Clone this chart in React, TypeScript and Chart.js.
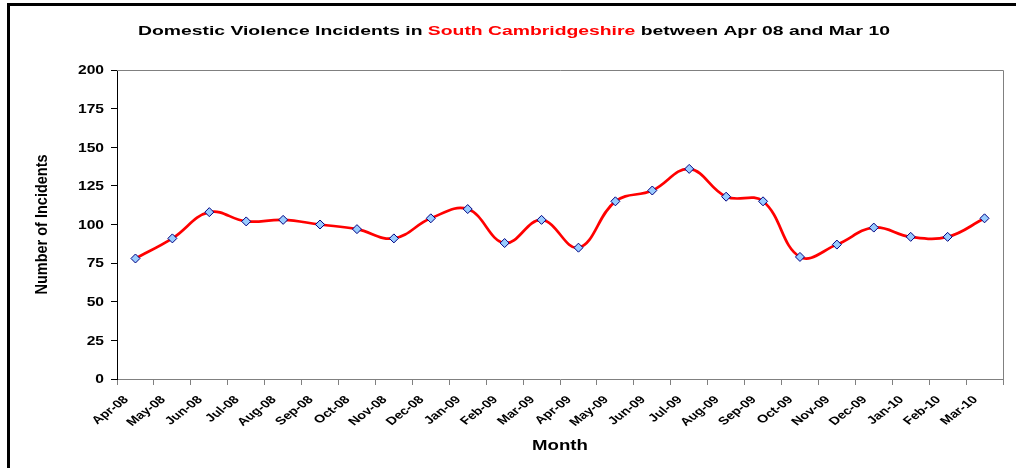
import React, { useEffect, useRef } from "react";
import { Chart, registerables } from "chart.js";

Chart.register(...registerables);

const months = [
  "Apr-08", "May-08", "Jun-08", "Jul-08", "Aug-08", "Sep-08", "Oct-08", "Nov-08",
  "Dec-08", "Jan-09", "Feb-09", "Mar-09", "Apr-09", "May-09", "Jun-09", "Jul-09",
  "Aug-09", "Sep-09", "Oct-09", "Nov-09", "Dec-09", "Jan-10", "Feb-10", "Mar-10",
];
const incidents = [78, 91, 108, 102, 103, 100, 97, 91, 104, 110, 88, 103, 85, 115, 122, 136, 118, 115, 79, 87, 98, 92, 92, 104];
const yTickValues = [0, 25, 50, 75, 100, 125, 150, 175, 200];
const yMin = 0;
const yMax = 200;
const yStep = 25;

const titleParts = [
  { text: "Domestic Violence Incidents in ", color: "#000000" },
  { text: "South Cambridgeshire", color: "#FF0000" },
  { text: " between Apr 08 and Mar 10", color: "#000000" },
];
const xTitle = "Month";
const yTitle = "Number of Incidents";

const FONT = "'Liberation Sans', Arial, sans-serif";
const STRETCH = 1.3;

const textPlugin = {
  id: "texts",
  afterDraw(chart: any) {
    const { ctx, chartArea: a } = chart;
    const xs = chart.scales.x;
    const ys = chart.scales.y;
    ctx.save();
    // plot area top/right border
    ctx.strokeStyle = "#808080";
    ctx.lineWidth = 1;
    ctx.beginPath();
    ctx.moveTo(a.left, a.top + 0.5);
    ctx.lineTo(a.right + 0.5, a.top + 0.5);
    ctx.lineTo(a.right + 0.5, a.bottom);
    ctx.stroke();
    // outer frame
    ctx.fillStyle = "#000000";
    ctx.fillRect(7, 3, 1009, 3);
    ctx.fillRect(7, 3, 3, 465);

    // title (stretched horizontally)
    ctx.font = `bold 13px ${FONT}`;
    ctx.textBaseline = "alphabetic";
    ctx.textAlign = "left";
    const total = titleParts.reduce((s, p) => s + ctx.measureText(p.text).width, 0);
    const targetW = 752;
    const sx = targetW / total;
    ctx.save();
    ctx.translate(514 - targetW / 2, 35);
    ctx.scale(sx, 1);
    let x = 0;
    for (const p of titleParts) {
      ctx.fillStyle = p.color;
      ctx.fillText(p.text, x, 0);
      x += ctx.measureText(p.text).width;
    }
    ctx.restore();

    // y tick labels
    ctx.fillStyle = "#000000";
    ctx.font = `bold 12px ${FONT}`;
    ctx.textAlign = "right";
    ctx.textBaseline = "middle";
    for (const v of yTickValues) {
      const py = ys.getPixelForValue(v);
      ctx.save();
      ctx.translate(104, py + 1);
      ctx.scale(STRETCH, 1);
      ctx.fillText(String(v), 0, 0);
      ctx.restore();
    }

    // y title (rotated, thickened horizontally)
    ctx.font = `bold 14.5px ${FONT}`;
    ctx.textAlign = "center";
    ctx.textBaseline = "middle";
    ctx.save();
    ctx.translate(42, (a.top + a.bottom) / 2);
    ctx.scale(1.15, 1);
    ctx.rotate(-Math.PI / 2);
    ctx.fillText(yTitle, 0, 0);
    ctx.restore();

    // x tick labels (rotated 45, stretched)
    ctx.font = `bold 11px ${FONT}`;
    ctx.textAlign = "right";
    ctx.textBaseline = "middle";
    months.forEach((m, i) => {
      const px = xs.getPixelForValue(i);
      ctx.save();
      ctx.translate(px - 9, a.bottom + 19);
      ctx.scale(STRETCH, 1);
      ctx.rotate(-Math.PI / 4);
      ctx.fillText(m, 0, 0);
      ctx.restore();
    });

    // x title
    ctx.font = `bold 14px ${FONT}`;
    ctx.textAlign = "center";
    ctx.textBaseline = "alphabetic";
    ctx.save();
    ctx.translate((a.left + a.right) / 2, 450);
    ctx.scale(1.33, 1);
    ctx.fillText(xTitle, 0, 0);
    ctx.restore();

    ctx.restore();
  },
};

export default function App() {
  const ref = useRef<HTMLCanvasElement | null>(null);

  useEffect(() => {
    if (!ref.current) return;
    const chart = new Chart(ref.current, {
      type: "line",
      data: {
        labels: months,
        datasets: [
          {
            data: incidents,
            borderColor: "#FF0000",
            borderWidth: 2.7,
            tension: 0.4,
            pointStyle: "rectRot",
            pointRadius: 4.5,
            pointBackgroundColor: "#99CCFF",
            pointBorderColor: "#000080",
            pointBorderWidth: 1,
            fill: false,
          },
        ],
      },
      options: {
        animation: false,
        responsive: false,
        devicePixelRatio: 1,
        layout: { padding: { top: 70, right: 13, left: 0, bottom: 0 } },
        plugins: {
          legend: { display: false },
          tooltip: { enabled: false },
          title: { display: false },
        },
        scales: {
          x: {
            type: "category",
            offset: true,
            grid: {
              offset: true,
              drawOnChartArea: false,
              drawTicks: true,
              tickLength: 6,
              color: "#808080",
            },
            border: { color: "#808080", width: 1 },
            ticks: { display: false, autoSkip: false },
            title: { display: false },
            afterFit(s: any) {
              s.height = 89;
            },
          },
          y: {
            min: yMin,
            max: yMax,
            grid: {
              drawOnChartArea: false,
              drawTicks: true,
              tickLength: 6,
              color: "#000000",
            },
            border: { color: "#000000", width: 1 },
            ticks: { display: false, stepSize: yStep },
            title: { display: false },
            afterFit(s: any) {
              s.width = 117;
            },
          },
        },
      },
      plugins: [textPlugin],
    });
    return () => chart.destroy();
  }, []);

  return (
    <div style={{ position: "fixed", left: 0, top: 0, width: 1016, height: 468, background: "#ffffff" }}>
      <canvas ref={ref} width={1016} height={468} style={{ width: 1016, height: 468, display: "block" }} />
    </div>
  );
}
